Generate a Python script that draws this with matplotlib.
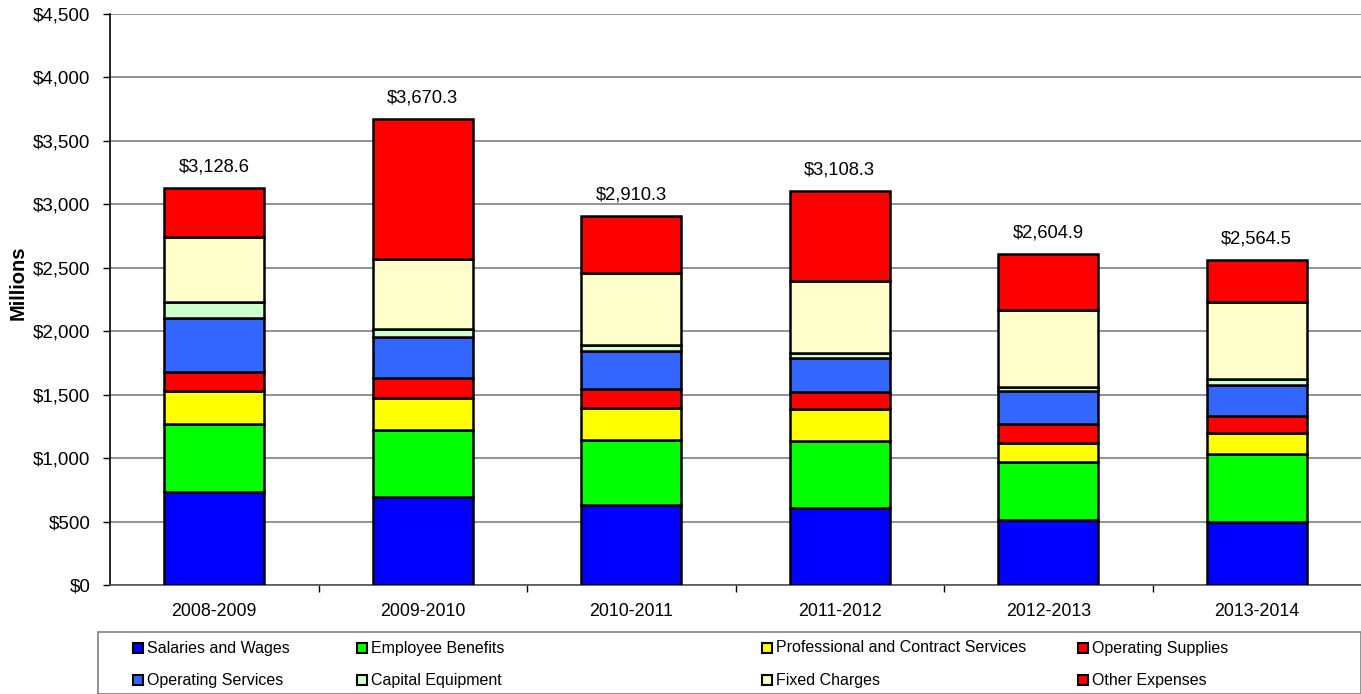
import matplotlib.pyplot as plt
from matplotlib.patches import Rectangle
from matplotlib.ticker import FuncFormatter, MultipleLocator, FixedLocator

plt.rcParams['font.family'] = ['Liberation Sans', 'DejaVu Sans']

years = ['2008-2009', '2009-2010', '2010-2011', '2011-2012', '2012-2013', '2013-2014']
totals = [3128.6, 3670.3, 2910.3, 3108.3, 2604.9, 2564.5]

# expense categories, $ millions, bottom to top
salaries = [735, 690, 630, 604, 512, 494]
benefits = [531, 532, 513, 533, 455, 536]
professional = [263, 254, 249, 248, 150, 166]
supplies = [152, 158, 150, 134, 149, 138]
services = [426, 323, 305, 268, 265, 242]
capital = [126, 58, 44, 39, 32, 45]
fixed = [512, 554, 565, 572, 604, 612]
other = [383.6, 1101.3, 454.3, 710.3, 437.9, 331.5]

names = ['Salaries and Wages', 'Employee Benefits', 'Professional and Contract Services',
         'Operating Supplies', 'Operating Services', 'Capital Equipment',
         'Fixed Charges', 'Other Expenses']
colors = ['#0000FF', '#00FF00', '#FFFF00', '#FF0000',
          '#3366FF', '#CCFFCC', '#FFFFCC', '#FF0000']
series = [salaries, benefits, professional, supplies, services, capital, fixed, other]

fig = plt.figure(figsize=(13.61, 6.94), dpi=100)
ax = fig.add_axes([110 / 1361, 109 / 694, 1251 / 1361, 571 / 694])

x = range(len(years))
bottom = [0.0] * len(years)
for vals, col in zip(series, colors):
    ax.bar(x, vals, width=0.48, bottom=bottom, color=col,
           edgecolor='black', linewidth=1.8, zorder=3)
    bottom = [b + v for b, v in zip(bottom, vals)]

for i, t in enumerate(totals):
    ax.annotate(f'${t:,.1f}', (i, t), xytext=(0, 9), textcoords='offset points',
                ha='center', va='bottom', fontsize=13.2)

ax.set_xlim(-0.5, len(years) - 0.5)
ax.set_ylim(0, 4500)
ax.yaxis.set_major_locator(MultipleLocator(500))
ax.yaxis.set_major_formatter(FuncFormatter(lambda v, p: f'${v:,.0f}'))
ax.grid(axis='y', color='#808080', linewidth=1.2, zorder=0)
ax.set_xticks(list(x))
ax.set_xticklabels(years)
ax.xaxis.set_minor_locator(FixedLocator([i + 0.5 for i in range(len(years) - 1)]))
ax.tick_params(axis='x', which='major', length=0, pad=13, labelsize=12.8)
ax.tick_params(axis='x', which='minor', length=5, direction='out', width=1)
ax.tick_params(axis='y', length=5, width=1, pad=9, labelsize=13.5)
for s in ['top', 'right']:
    ax.spines[s].set_visible(False)
ax.spines['left'].set_linewidth(1.2)
ax.spines['bottom'].set_linewidth(1.2)
ax.spines['bottom'].set_color('#555555')
ax.set_ylabel('Millions', fontsize=14.5, fontweight='bold')
ax.yaxis.set_label_coords(-0.066, 0.529)

# legend box drawn in pixel positions of the figure
W, H = 1361, 694
fig.patches.append(Rectangle((98 / W, 0), (W - 98) / W, (694 - 632) / H,
                             transform=fig.transFigure, facecolor='white',
                             edgecolor='#808080', linewidth=1.2))
col_x = [133, 357, 762, 1078]
row_y = [648, 680]
for k, (name, col) in enumerate(zip(names, colors)):
    cx = col_x[k % 4]
    cy = row_y[k // 4]
    fig.patches.append(Rectangle((cx / W, (H - cy - 5) / H), 10 / W, 10 / H,
                                 transform=fig.transFigure, facecolor=col,
                                 edgecolor='black', linewidth=1.5))
    fig.text((cx + 14) / W, (H - cy) / H, name, fontsize=11.5, va='center', ha='left')

fig.savefig('out.png', dpi=100)
